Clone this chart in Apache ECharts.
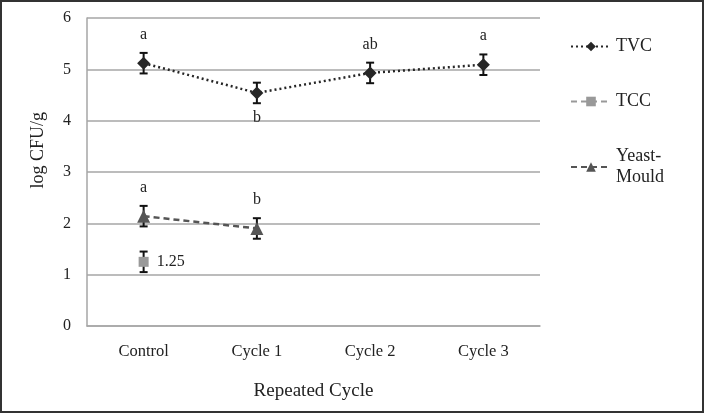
<!DOCTYPE html>
<html><head><meta charset="utf-8">
<script src="https://cdn.jsdelivr.net/npm/echarts@6/dist/echarts.min.js"></script>
<style>
html,body{margin:0;padding:0;background:#fff;}
#frame{position:absolute;left:0;top:0;width:700px;height:409px;border:2px solid #333;}
#c{position:absolute;left:0;top:0;width:704px;height:413px;}
</style></head>
<body><div id="c"></div><div id="frame"></div>
<script>
const categories = ['Control', 'Cycle 1', 'Cycle 2', 'Cycle 3'];
const tvc = [5.12, 4.54, 4.93, 5.09];
const tvcErr = [0.2, 0.2, 0.2, 0.2];
const tvcLetters = ['a', 'b', 'ab', 'a'];
const tvcLetterPos = ['top', 'bottom', 'top', 'top'];
const tcc = [1.25, null, null, null];
const tccErr = [0.2, null, null, null];
const tccLabels = ['1.25', '', '', ''];
const yeast = [2.14, 1.9, null, null];
const yeastErr = [0.2, 0.2, null, null];
const yeastLetters = ['a', 'b', '', ''];

const FONT = 'Liberation Serif';

function errSeries(vals, errs) {
  const data = [];
  vals.forEach((v, i) => { if (v != null) data.push([i, v - errs[i], v + errs[i]]); });
  return {
    type: 'custom', silent: true, z: 5,
    renderItem: function (params, api) {
      const x = api.value(0);
      const lo = api.coord([x, api.value(1)]);
      const hi = api.coord([x, api.value(2)]);
      const w = 4;
      const st = { stroke: '#111', lineWidth: 2 };
      return { type: 'group', children: [
        { type: 'line', shape: { x1: lo[0], y1: lo[1], x2: hi[0], y2: hi[1] }, style: st },
        { type: 'line', shape: { x1: lo[0] - w, y1: lo[1], x2: lo[0] + w, y2: lo[1] }, style: st },
        { type: 'line', shape: { x1: hi[0] - w, y1: hi[1], x2: hi[0] + w, y2: hi[1] }, style: st }
      ]};
    },
    encode: { x: 0, y: [1, 2] },
    data: data
  };
}

const chart = echarts.init(document.getElementById('c'), null, { renderer: 'canvas' });
chart.setOption({
  animation: false,
  backgroundColor: '#fff',
  textStyle: { fontFamily: FONT },
  grid: { left: 87, right: 164, top: 18, bottom: 87 },
  graphic: [{
    type: 'text', left: 29, top: 112, rotation: Math.PI / 2,
    style: { text: 'log CFU/g', fontFamily: FONT, fontSize: 18, fill: '#222' }
  }],
  legend: {
    orient: 'vertical', left: 570, top: 36, itemGap: 34, padding: 0,
    itemWidth: 40, itemHeight: 12,
    textStyle: { fontFamily: FONT, fontSize: 18, color: '#222', lineHeight: 21 },
    data: ['TVC', 'TCC', 'Yeast-\nMould']
  },
  xAxis: {
    type: 'category', data: categories, boundaryGap: true,
    name: 'Repeated Cycle', nameLocation: 'middle', nameGap: 56,
    nameTextStyle: { fontFamily: FONT, fontSize: 19, color: '#222' },
    axisLine: { lineStyle: { color: '#a6a6a6', width: 1.5 } },
    axisTick: { show: false },
    axisLabel: { fontFamily: FONT, fontSize: 16.5, color: '#222', margin: 17 }
  },
  yAxis: {
    type: 'value', min: 0, max: 6, interval: 1,
    axisLine: { show: true, lineStyle: { color: '#a6a6a6', width: 1.5 } },
    axisTick: { show: false },
    splitLine: { lineStyle: { color: '#a6a6a6', width: 1.5 } },
    axisLabel: { fontFamily: FONT, fontSize: 16, color: '#222', margin: 16 }
  },
  series: [
    {
      name: 'TVC', type: 'line', z: 6,
      symbol: 'diamond', symbolSize: 13,
      itemStyle: { color: '#262626' },
      lineStyle: { color: '#262626', width: 2.5, type: [2, 3] },
      data: tvc.map((v, i) => ({ value: v, label: { show: true, formatter: tvcLetters[i], position: tvcLetterPos[i], distance: tvcLetterPos[i] === 'top' ? 14 : 10 } })),
      label: { fontFamily: FONT, fontSize: 16, color: '#222' }
    },
    {
      name: 'TCC', type: 'line', z: 6,
      symbol: 'rect', symbolSize: 10,
      itemStyle: { color: '#999999' },
      lineStyle: { color: '#999999', width: 2.5, type: [6, 4] },
      data: tcc.map((v, i) => ({ value: v, label: { show: !!tccLabels[i], formatter: tccLabels[i], position: 'right', distance: 8 } })),
      label: { fontFamily: FONT, fontSize: 16, color: '#222' }
    },
    {
      name: 'Yeast-\nMould', type: 'line', z: 6,
      symbol: 'triangle', symbolSize: 13,
      itemStyle: { color: '#555555' },
      lineStyle: { color: '#555555', width: 2.5, type: [6, 4] },
      data: yeast.map((v, i) => ({ value: v, label: { show: !!yeastLetters[i], formatter: yeastLetters[i], position: 'top', distance: 14 } })),
      label: { fontFamily: FONT, fontSize: 16, color: '#222' }
    },
    errSeries(tvc, tvcErr),
    errSeries(tcc, tccErr),
    errSeries(yeast, yeastErr)
  ]
});
</script></body></html>
